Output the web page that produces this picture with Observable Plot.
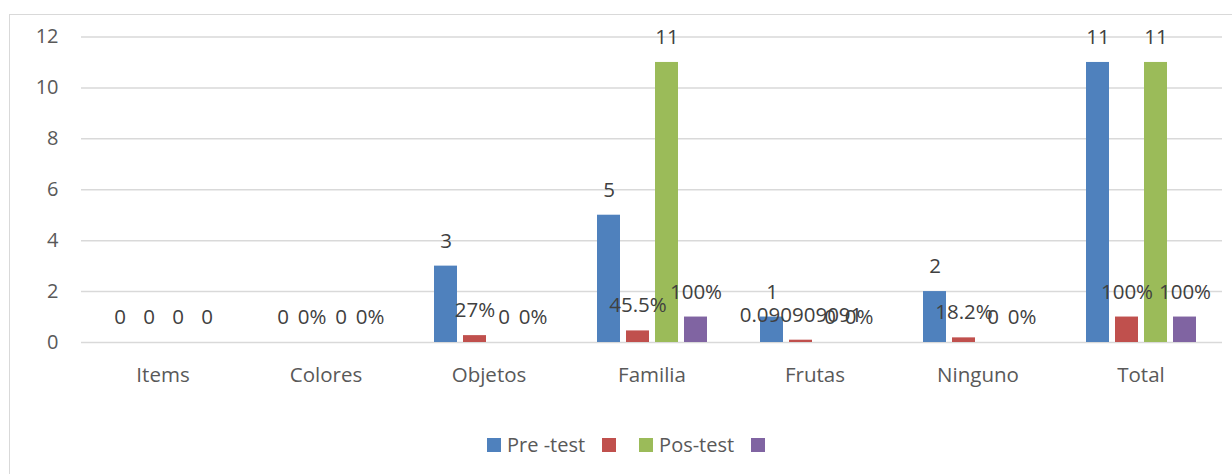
<!DOCTYPE html>
<html>
<head>
<meta charset="utf-8">
<script src="https://cdn.jsdelivr.net/npm/d3@7"></script>
<script src="https://cdn.jsdelivr.net/npm/@observablehq/plot@0.6"></script>
<style>
  html, body { margin: 0; padding: 0; background: #ffffff; }
  #wrap { position: relative; width: 1232px; height: 474px; overflow: hidden; font-family: "Open Sans", Lato, sans-serif; }
  #frame { position: absolute; left: 9px; top: 14px; width: 1400px; height: 600px; border: 1.5px solid #d9d9d9; box-sizing: border-box; }
  #chart { position: absolute; left: 0; top: 0; }
  #legend { position: absolute; left: 487px; top: 431px; display: flex; align-items: center; font-size: 20px; color: #595959; }
  .item { display: flex; align-items: center; margin-right: 17px; }
  .sw { width: 14px; height: 14px; margin-right: 6px; }
</style>
</head>
<body>
<div id="wrap">
  <div id="frame"></div>
  <div id="chart"></div>
  <div id="legend"></div>
</div>
<script>
const categories = ["Items", "Colores", "Objetos", "Familia", "Frutas", "Ninguno", "Total"];
const seriesKeys = ["pre", "prePct", "pos", "posPct"];
const seriesNames = ["Pre -test", "", "Pos-test", ""];
const seriesColors = ["#4f81bd", "#c0504d", "#9bbb59", "#8064a2"];

const preTest = [0, 0, 3, 5, 1, 2, 11];
const prePct = [0, 0, 0.27, 0.455, 0.0909, 0.182, 1];
const posTest = [0, 0, 0, 11, 0, 0, 11];
const posPct = [0, 0, 0, 1, 0, 0, 1];

const preLabels = ["0", "0", "3", "5", "1", "2", "11"];
const prePctLabels = ["0", "0%", "27%", "45.5%", "0.090909091", "18.2%", "100%"];
const posLabels = ["0", "0", "0", "11", "0", "0", "11"];
const posPctLabels = ["0", "0%", "0%", "100%", "0%", "0%", "100%"];

const yTicks = [0, 2, 4, 6, 8, 10, 12];

const values = [preTest, prePct, posTest, posPct];
const labels = [preLabels, prePctLabels, posLabels, posPctLabels];

const data = categories.flatMap((c, i) =>
  seriesKeys.map((k, j) => ({cat: c, key: k, value: values[j][i], label: labels[j][i]}))
);

const chart = Plot.plot({
  width: 1232,
  height: 400,
  marginLeft: 80,
  marginRight: 9,
  marginTop: 36.5,
  marginBottom: 58,
  style: {fontFamily: "'Open Sans', Lato, sans-serif", fontSize: "18px", color: "#595959", background: "transparent"},
  fx: {domain: categories, padding: 0, label: null},
  x: {domain: seriesKeys, paddingInner: 0.21, paddingOuter: 0.85, axis: null},
  y: {domain: [0, 12], label: null},
  color: {domain: seriesKeys, range: seriesColors},
  marks: [
    Plot.gridY(yTicks, {stroke: "#d9d9d9", strokeOpacity: 1, strokeWidth: 1.5}),
    Plot.axisY(yTicks, {tickSize: 0, tickPadding: 23, label: null, fontSize: 20, fill: "#595959"}),
    Plot.axisFx({anchor: "bottom", tickSize: 0, tickPadding: 25, label: null, fontSize: 20.5, fill: "#595959"}),
    Plot.barY(data, {fx: "cat", x: "key", y: "value", fill: "key"}),
    Plot.text(data, {fx: "cat", x: "key", y: "value", text: "label", dy: -25, fill: "#404040", fontSize: 20.5})
  ]
});
document.getElementById("chart").appendChild(chart);

const legend = document.getElementById("legend");
seriesKeys.forEach((k, i) => {
  const item = document.createElement("div");
  item.className = "item";
  const sw = document.createElement("div");
  sw.className = "sw";
  sw.style.background = seriesColors[i];
  const t = document.createElement("span");
  t.textContent = seriesNames[i];
  item.appendChild(sw);
  item.appendChild(t);
  legend.appendChild(item);
});
</script>
</body>
</html>
